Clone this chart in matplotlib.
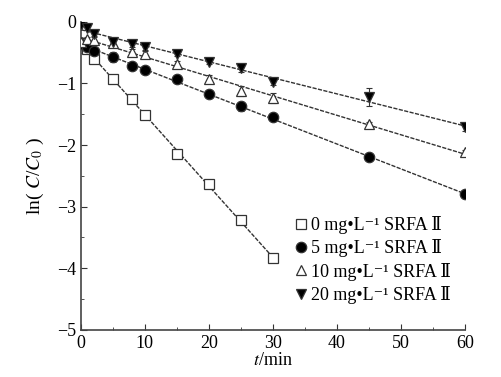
import numpy as np
import matplotlib
matplotlib.use('Agg')
import matplotlib.pyplot as plt

plt.rcParams['font.family'] = ['Liberation Serif', 'DejaVu Serif', 'Noto Sans CJK SC']
plt.rcParams['mathtext.fontset'] = 'stix'

# 0 mg/L SRFA II
t0 = [0, 1, 2, 5, 8, 10, 15, 20, 25, 30]
y0 = [-0.35, -0.44, -0.60, -0.93, -1.25, -1.51, -2.15, -2.64, -3.22, -3.83]
# 5 mg/L
t5 = [0, 1, 2, 5, 8, 10, 15, 20, 25, 30, 45, 60]
y5 = [-0.36, -0.40, -0.47, -0.57, -0.72, -0.78, -0.93, -1.17, -1.37, -1.55, -2.20, -2.80]
e5 = [0, 0, 0, 0.08, 0.05, 0.04, 0.04, 0.06, 0.07, 0.04, 0.04, 0.03]
# 10 mg/L
t10 = [0, 1, 2, 5, 8, 10, 15, 20, 25, 30, 45, 60]
y10 = [-0.33, -0.28, -0.30, -0.35, -0.49, -0.52, -0.68, -0.93, -1.12, -1.24, -1.66, -2.12]
e10 = [0, 0.04, 0.05, 0.05, 0.05, 0.04, 0.05, 0.07, 0.08, 0.08, 0.04, 0.04]
# 20 mg/L
t20 = [0, 1, 2, 5, 8, 10, 15, 20, 25, 30, 45, 60]
y20 = [-0.05, -0.10, -0.20, -0.33, -0.36, -0.41, -0.52, -0.65, -0.75, -0.98, -1.22, -1.71]
e20 = [0, 0.03, 0.03, 0.05, 0.04, 0.04, 0.04, 0.04, 0.06, 0.04, 0.15, 0.06]

labels = ['0 mg•L⁻¹ SRFA Ⅱ', '5 mg•L⁻¹ SRFA Ⅱ',
          '10 mg•L⁻¹ SRFA Ⅱ', '20 mg•L⁻¹ SRFA Ⅱ']

fig = plt.figure(figsize=(5.02, 3.77), dpi=100)
ax = fig.add_axes([0.161, 0.125, 0.765, 0.817])

series = [
    (t0, y0, None, 's', 'white'),
    (t5, y5, e5, 'o', 'black'),
    (t10, y10, e10, '^', 'white'),
    (t20, y20, e20, 'v', 'black'),
]

for (t, y, e, m, fc), lab in zip(series, labels):
    t = np.array(t)
    y = np.array(y)
    k, b = np.polyfit(t, y, 1)
    tt = np.array([0, t.max()])
    ax.plot(tt, k * tt + b, color='#333333', lw=1.0, ls=(0, (3, 1)), zorder=1)
    if e is not None:
        ax.errorbar(t, y, yerr=e, fmt='none', ecolor='#333333', elinewidth=0.8,
                    capsize=2.5, capthick=0.8, zorder=2)
    ax.plot(t, y, ls='none', marker=m, ms=7.5, mfc=fc, mec='#333333', mew=0.9,
            label=lab, zorder=3)

ax.set_xlim(0, 60)
ax.set_ylim(-5, 0)
ax.set_xticks([0, 10, 20, 30, 40, 50, 60])
ax.set_xticks([5, 15, 25, 35, 45, 55], minor=True)
ax.set_yticks([0, -1, -2, -3, -4, -5])
ax.set_yticks([-0.5, -1.5, -2.5, -3.5, -4.5], minor=True)
ax.set_yticklabels(['0', '−1', '−2', '−3', '−4', '−5'])
ax.tick_params(which='both', direction='in', labelsize=13, color='#333333')
ax.tick_params(which='major', length=4)
ax.tick_params(which='minor', length=2.5)
ax.spines['top'].set_visible(False)
ax.spines['right'].set_visible(False)
for s in ['left', 'bottom']:
    ax.spines[s].set_color('#444444')
    ax.spines[s].set_linewidth(1.2)

ax.set_xlabel('$t$/min', fontsize=13, labelpad=0)
ax.set_ylabel('ln( $C$/$C_0$ )', fontsize=14, labelpad=8)

ax.legend(loc='upper left', bbox_to_anchor=(0.56, 0.37), frameon=False,
          fontsize=13, handlelength=0.6, handletextpad=0.25, labelspacing=0.3,
          borderaxespad=0, borderpad=0)

fig.savefig('out.png', dpi=100)
